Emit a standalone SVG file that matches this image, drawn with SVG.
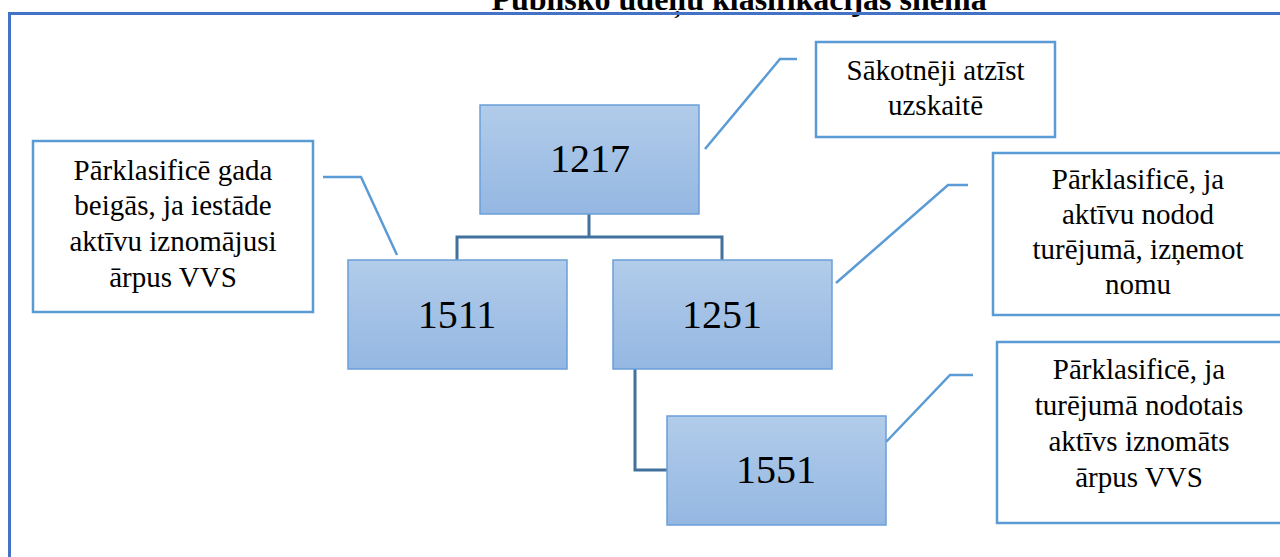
<svg xmlns="http://www.w3.org/2000/svg" width="1280" height="557" viewBox="0 0 1280 557">
<defs>
<linearGradient id="g" x1="0" y1="0" x2="0" y2="1">
<stop offset="0" stop-color="#B2CCEA"/>
<stop offset="1" stop-color="#94B7E2"/>
</linearGradient>
<style>
text{font-family:'Liberation Serif','Times New Roman',Tinos,'DejaVu Serif',serif;fill:#000;text-anchor:middle}
.n{fill:url(#g);stroke:#6A9FD8;stroke-width:1.5}
.c{fill:#fff;stroke:#5B9BD5;stroke-width:2.5}
.num{font-size:40px}
.t{font-size:29px}
.ttl{font-size:32px;font-weight:bold}
.tree{fill:none;stroke:#41719C;stroke-width:3}
.cl{fill:none;stroke:#5B9BD5;stroke-width:2.5}
</style>
</defs>
<rect width="1280" height="557" fill="#fff"/>
<text class="ttl" x="739" y="10">Publisko ūdeņu klasifikācijas shēma</text>
<path d="M9.5 557 V13.5 H1280" fill="none" stroke="#4472C4" stroke-width="3"/>
<g id="connectors">
<path class="tree" d="M589 214 V237 M457 260 V237 H722 V260"/>
<path class="tree" d="M635 369 V470 H667"/>
<path class="cl" d="M705 149 L780 59 H797"/>
<path class="cl" d="M397 255 L361 177 H323"/>
<path class="cl" d="M836 283 L948 185 H968"/>
<path class="cl" d="M886 442 L950 375 H973"/>
</g>
<g id="n1217">
<rect class="n" x="480" y="105" width="219" height="109"/>
<text class="num" x="590" y="172">1217</text>
</g>
<g id="n1511">
<rect class="n" x="348" y="260" width="219" height="109"/>
<text class="num" x="457" y="328">1511</text>
</g>
<g id="n1251">
<rect class="n" x="613" y="260" width="219" height="109"/>
<text class="num" x="722" y="328">1251</text>
</g>
<g id="n1551">
<rect class="n" x="667" y="416" width="219" height="109"/>
<text class="num" x="776" y="483">1551</text>
</g>
<g id="c1">
<rect class="c" x="816" y="42" width="239" height="95"/>
<text class="t" x="935.5" y="80">Sākotnēji atzīst</text>
<text class="t" x="935.5" y="115">uzskaitē</text>
</g>
<g id="c2">
<rect class="c" x="33" y="141" width="280" height="171"/>
<text class="t" x="173" y="180">Pārklasificē gada</text>
<text class="t" x="173" y="215">beigās, ja iestāde</text>
<text class="t" x="173" y="251">aktīvu iznomājusi</text>
<text class="t" x="173" y="287">ārpus VVS</text>
</g>
<g id="c3">
<rect class="c" x="993" y="153" width="292" height="162"/>
<text class="t" x="1138" y="189">Pārklasificē, ja</text>
<text class="t" x="1138" y="224">aktīvu nodod</text>
<text class="t" x="1138" y="259">turējumā, izņemot</text>
<text class="t" x="1138" y="294">nomu</text>
</g>
<g id="c4">
<rect class="c" x="997" y="342" width="288" height="181"/>
<text class="t" x="1139" y="379">Pārklasificē, ja</text>
<text class="t" x="1139" y="415">turējumā nodotais</text>
<text class="t" x="1139" y="451">aktīvs iznomāts</text>
<text class="t" x="1139" y="487">ārpus VVS</text>
</g>
</svg>
